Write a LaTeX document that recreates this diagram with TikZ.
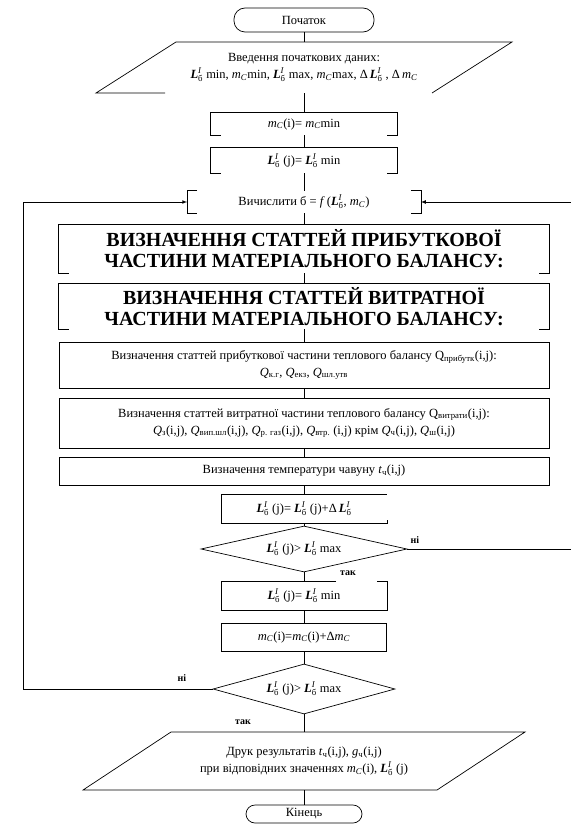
\documentclass[tikz,border=0pt]{standalone}
\usepackage{fontspec}
\setmainfont{Liberation Serif}
\usepackage{amsmath}
\usetikzlibrary{shapes.geometric,arrows}

\newcommand{\Lb}{$\text{\bfseries\itshape L}^{\text{\itshape I}}_{\text{б}}$}
\newcommand{\mC}{\textit{m}\textsubscript{\textit{C}}}
\newcommand{\Qs}[1]{\textit{Q}\textsubscript{#1}}
\newcommand{\hookbox}[1]{\draw (#1.south west) ++(10,0) -- (#1.south west) -- (#1.north west) -- (#1.north east) -- (#1.south east) -- ++(-10,0);}

\tikzset {
    term/.style={rectangle, rounded corners=11pt, draw, inner sep=0pt, font=\fontsize{12.5}{15}\selectfont},
    cell/.style={rectangle, inner sep=0pt, align=center, font=\fontsize{12.5}{17}\selectfont},
    head/.style={cell, font=\fontsize{20}{21}\selectfont\bfseries},
    test/.style={diamond, draw, aspect=4, inner sep=0pt, font=\fontsize{12.5}{15}\selectfont},
    lbl/.style={inner sep=1pt, font=\fontsize{10}{11}\selectfont\bfseries},
}

\begin{document}
\begin{tikzpicture}[x=1pt, y=-1pt, line width=0.7pt, >=latex]
    \useasboundingbox (0,0) rectangle (570,824);

    % main column
    \node (start) at (304,20) [term, minimum width=140pt, minimum height=24pt] {Початок};
    \node (inp) at (304,67.5) [cell, minimum width=336pt, minimum height=51pt] {Введення початкових даних:\\
        \Lb{} min, \mC{}min, \Lb{} max, \mC{}max, Δ\,\Lb{} , Δ\,\mC};
    \node (mcmin) at (304,124) [cell, minimum width=186pt, minimum height=22pt] {\mC(i)= \mC{}min};
    \node (lbmin) at (304,160.5) [cell, minimum width=186pt, minimum height=25pt] {\Lb{} (j)= \Lb{} min};
    \node (calc) at (304,202) [cell, minimum width=233pt, minimum height=22pt] {Вичислити б = \textit{f}\,(\Lb, \mC)};
    \node (matin) at (304,249) [head, minimum width=490pt, minimum height=48pt] {ВИЗНАЧЕННЯ СТАТТЕЙ ПРИБУТКОВОЇ\\ЧАСТИНИ МАТЕРІАЛЬНОГО БАЛАНСУ:};
    \node (matout) at (304,306.5) [head, minimum width=490pt, minimum height=45pt] {ВИЗНАЧЕННЯ СТАТТЕЙ ВИТРАТНОЇ\\ЧАСТИНИ МАТЕРІАЛЬНОГО БАЛАНСУ:};
    \node (heatin) at (304,365) [cell, draw, minimum width=490pt, minimum height=46pt] {Визначення статтей прибуткової частини теплового балансу Q\textsubscript{прибутк}(i,j):\\
        \Qs{к.г}, \Qs{екз}, \Qs{шл.утв}};
    \node (heatout) at (304,423) [cell, draw, minimum width=490pt, minimum height=50pt] {Визначення статтей витратної частини теплового балансу Q\textsubscript{витрати}(i,j):\\
        \Qs{з}(i,j), \Qs{вип.шл}(i,j), \Qs{р. газ}(i,j), \Qs{втр.} (i,j) крім \Qs{ч}(i,j), \Qs{ш}(i,j)};
    \node (temp) at (304,471) [cell, draw, minimum width=490pt, minimum height=28pt] {Визначення температури чавуну \textit{t}\textsubscript{ч}(i,j)};
    \node (lbstep) at (304,509) [cell, minimum width=165pt, minimum height=28pt] {\Lb{} (j)= \Lb{} (j)+Δ\,\Lb};
    \node (testlb) at (304,549) [test, minimum width=206pt, minimum height=46pt] {\Lb{} (j)> \Lb{} max};
    \node (lbreset) at (304,596) [cell, minimum width=165pt, minimum height=28pt] {\Lb{} (j)= \Lb{} min};
    \node (mcstep) at (304,637) [cell, draw, minimum width=165pt, minimum height=28pt] {\mC(i)=\mC(i)+Δ\mC};
    \node (testmc) at (304,689) [test, minimum width=182pt, minimum height=50pt] {\Lb{} (j)> \Lb{} max};
    \node (print) at (304,761) [cell, minimum width=354pt, minimum height=58pt] {Друк результатів \textit{t}\textsubscript{ч}(i,j), \textit{g}\textsubscript{ч}(i,j)\\
        при відповідних значеннях \mC(i), \Lb{} (j)};
    \node (stop) at (304,814) [term, rounded corners=9pt, minimum width=116pt, minimum height=18pt] {Кінець};

    % outlines
    \draw (176,42) -- (512,42) -- (432,93);
    \draw (165,93) -- (96,93) -- (176,42);
    \hookbox{mcmin}
    \hookbox{lbmin}
    \hookbox{matin}
    \hookbox{matout}
    \draw (calc.north west) ++(10,0) -- (calc.north west) -- (calc.south west) -- ++(10,0);
    \draw (calc.north east) ++(-10,0) -- (calc.north east) -- (calc.south east) -- ++(-10,0);
    \draw (lbstep.north east) -- (lbstep.north west) -- (lbstep.south west) -- (lbstep.south east) -- ++(0,-3);
    \draw (lbreset.north west) ++(115,0) -- (lbreset.north west) -- (lbreset.south west) -- (lbreset.south east) -- (lbreset.north east) -- ++(-10,0);
    \draw (171,732) -- (525,732) -- (437,790) -- (83,790) -- cycle;

    % connectors
    \foreach \a/\b in {start/inp, inp/mcmin, mcmin/lbmin, lbmin/calc, calc/matin, matin/matout,
        matout/heatin, heatin/heatout, heatout/temp, temp/lbstep, lbstep/testlb, testlb/lbreset,
        lbreset/mcstep, mcstep/testmc, testmc/print, print/stop}
        \draw (\a) -- (\b);

    \coordinate (loopl1) at (23,689);
    \coordinate (loopl2) at (23,202);
    \coordinate (loopr1) at (574,549);
    \coordinate (loopr2) at (574,202);
    \draw [->] (testmc.west) -- (loopl1) -- (loopl2) -- (calc.west);
    \draw [->] (testlb.east) -- (loopr1) -- (loopr2) -- (calc.east);

    \node (no1) at (415,540) [lbl] {ні};
    \node (yes1) at (348,573) [lbl] {так};
    \node (no2) at (182,678) [lbl] {ні};
    \node (yes2) at (243,722) [lbl] {так};
\end{tikzpicture}
\end{document}
